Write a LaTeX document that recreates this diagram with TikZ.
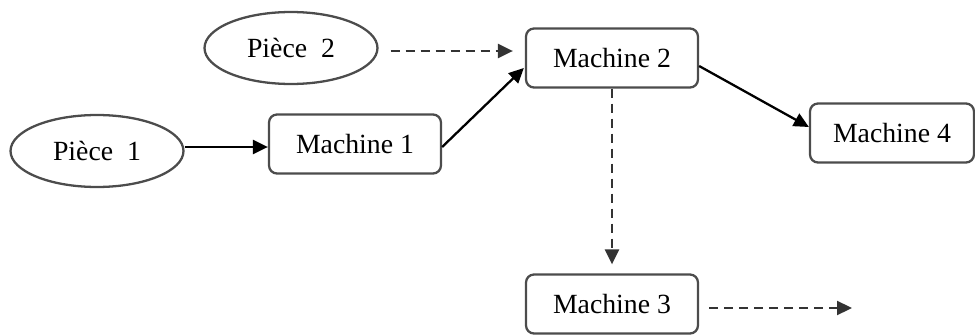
\documentclass[tikz,border=0pt]{standalone}
\usepackage{fontspec}
\setmainfont{Liberation Serif}
\usetikzlibrary{shapes.geometric,arrows.meta,calc}
\begin{document}
\begin{tikzpicture}[x=0.02cm,y=-0.02cm,
  font=\fontsize{15.8}{18}\selectfont,
  machbox/.style={draw=black!70,line width=1.3pt,rounded corners=0.16cm,minimum width=3.44cm,minimum height=1.18cm,inner sep=0pt},
  piece/.style={draw=black!70,line width=1.3pt,ellipse,minimum width=3.46cm,minimum height=1.44cm,inner sep=0pt},
  tip/.style={-{Triangle[length=0.3cm,width=0.28cm]}},
  conn/.style={tip,line width=1.3pt,black},
  dconn/.style={tip,line width=1.3pt,black!80,dash pattern=on 0.18cm off 0.12cm}]
\useasboundingbox (0,0) rectangle (975,335);
\node[piece] (p2) at (291,48) {Pièce\ \ 2};
\node[piece] (p1) at (97,151) {Pièce\ \ 1};
\node[machbox] (m1) at (355,144) {Machine 1};
\node[machbox] (m2) at (612,58) {Machine 2};
\node[machbox,minimum width=3.28cm] (m4) at (892,133) {Machine 4};
\node[machbox] (m3) at (612,304) {Machine 3};
\coordinate (out3) at (852,308);
\draw[conn] (p1.east |- 0,147) -- (m1.west |- 0,147);
\draw[conn] ($(m1.east)+(0,3)$) -- ($(m2.west)+(-1,10)$);
\draw[conn] ($(m2.east)+(0,8)$) -- ($(m4.west)+(0,-6)$);
\draw[dconn] ($(p2.east)+(12,3)$) -- ($(m2.west)+(-12,-7)$);
\draw[dconn] (m2.south) -- ($(m3.north)+(0,-9)$);
\draw[dconn] ($(m3.east)+(10,4)$) -- (out3);
\end{tikzpicture}
\end{document}
